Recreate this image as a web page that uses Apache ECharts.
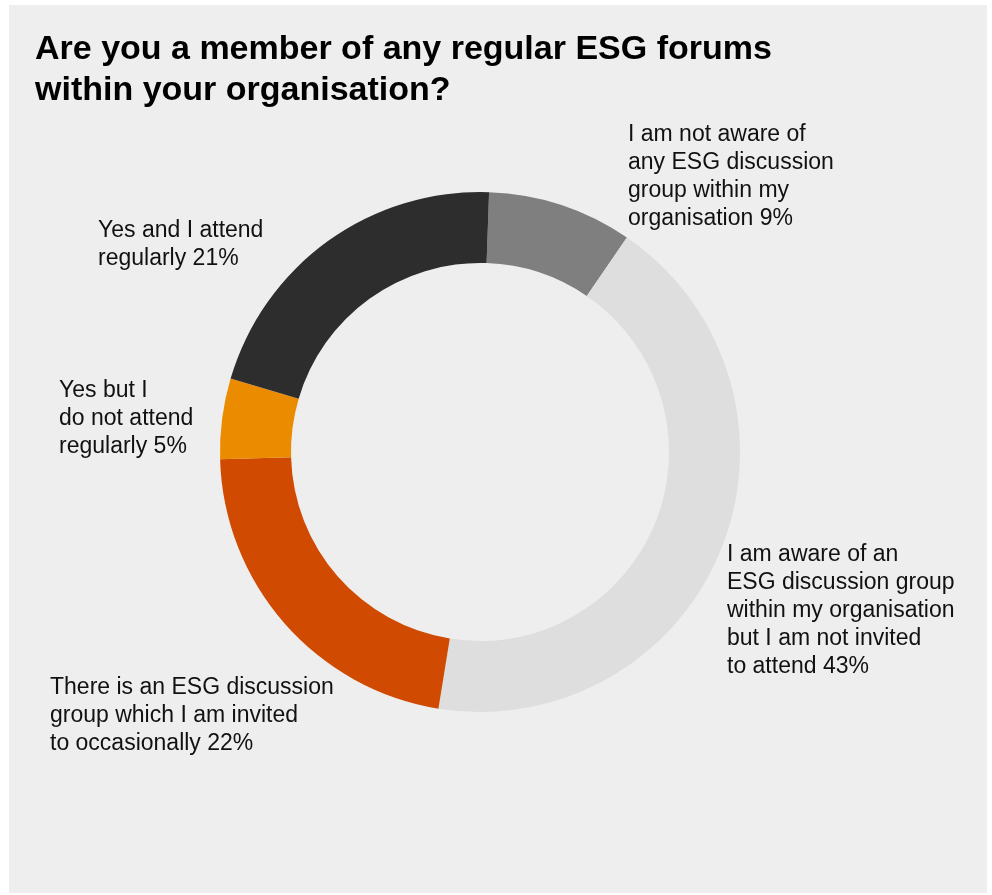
<!DOCTYPE html>
<html>
<head>
<meta charset="utf-8">
<script src="https://cdn.jsdelivr.net/npm/echarts@6/dist/echarts.min.js"></script>
<style>
  html, body { margin: 0; padding: 0; background: #ffffff; }
  #chart { width: 992px; height: 895px; }
</style>
</head>
<body>
<div id="chart"></div>
<script>
// Survey answers, clockwise from the top of the ring
const categories = [
  'I am not aware of\nany ESG discussion\ngroup within my\norganisation',
  'I am aware of an\nESG discussion group\nwithin my organisation\nbut I am not invited\nto attend',
  'There is an ESG discussion\ngroup which I am invited\nto occasionally',
  'Yes but I\ndo not attend\nregularly',
  'Yes and I attend\nregularly'
];
const values = [9, 43, 22, 5, 21];
const colors = ['#7f7f7f', '#dedede', '#d04a02', '#eb8c00', '#2d2d2d'];

// Top-left corner of each answer's label block
const labelSpots = [
  [628, 121],
  [727, 541],
  [50, 674],
  [59, 377],
  [98, 217]
];

const FONT = '"Liberation Sans", Arial, Helvetica, sans-serif';

const chart = echarts.init(document.getElementById('chart'), null, { renderer: 'canvas' });

chart.setOption({
  backgroundColor: '#ffffff',
  animation: false,
  graphic: [{
    type: 'rect',
    z: -10,
    silent: true,
    shape: { x: 9, y: 5, width: 978, height: 888 },
    style: { fill: '#eeeeee' }
  }],
  title: {
    text: 'Are you a member of any regular ESG forums\nwithin your organisation?',
    left: 35,
    top: 29,
    padding: 0,
    textStyle: {
      fontFamily: FONT,
      fontWeight: 'bold',
      fontSize: 34,
      lineHeight: 41,
      color: '#000000'
    }
  },
  series: [{
    type: 'pie',
    center: [480, 452],
    radius: [189, 260],
    startAngle: 88,
    clockwise: true,
    avoidLabelOverlap: false,
    emphasis: { disabled: true },
    labelLine: { show: false },
    label: {
      show: true,
      position: 'outside',
      formatter: p => p.name + ' ' + p.value + '%',
      fontFamily: FONT,
      fontSize: 23,
      lineHeight: 28,
      color: '#111111'
    },
    labelLayout: params => {
      const s = labelSpots[params.dataIndex];
      return { x: s[0], y: s[1], align: 'left', verticalAlign: 'top' };
    },
    data: categories.map((name, i) => ({
      name: name,
      value: values[i],
      itemStyle: { color: colors[i] }
    }))
  }]
});
</script>
</body>
</html>
